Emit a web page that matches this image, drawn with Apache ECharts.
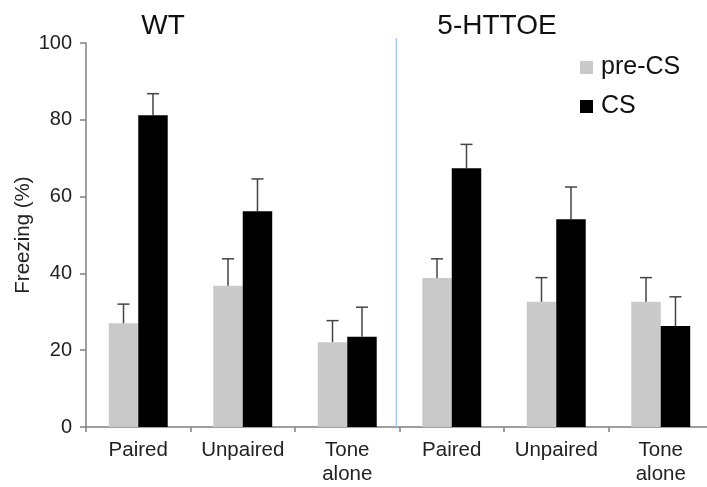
<!DOCTYPE html>
<html>
<head>
<meta charset="utf-8">
<script src="https://cdn.jsdelivr.net/npm/echarts@6/dist/echarts.min.js"></script>
<style>
html,body{margin:0;padding:0;background:#fff;}
#chart{width:707px;height:487px;}
</style>
</head>
<body>
<div id="chart"></div>
<script>
const categories = ['Paired', 'Unpaired', 'Tone\nalone', 'Paired', 'Unpaired', 'Tone\nalone'];
const groupTitles = ['WT', '5-HTTOE'];
const seriesNames = ['pre-CS', 'CS'];
const preCS = [27.0, 36.8, 22.1, 38.8, 32.6, 32.6];
const preCSErr = [5.0, 7.0, 5.6, 5.0, 6.3, 6.3];
const cs = [81.2, 56.2, 23.5, 67.4, 54.1, 26.3];
const csErr = [5.6, 8.4, 7.7, 6.2, 8.4, 7.6];
const yTicks = [0, 20, 40, 60, 80, 100];
// divider between the two genotype groups: after category index 2, fraction of band
const dividerAfter = 2;
const dividerFrac = 0.47;
const dividerTop = 101.3;

const FONT = '"Liberation Sans", Arial, sans-serif';
const BAR_FRAC = 0.282;

function errRender(sign) {
  return function (params, api) {
    const i = api.value(0), v = api.value(1), e = api.value(2);
    const base = api.coord([i, v]);
    const top = api.coord([i, v + e]);
    const band = api.size([1, 0])[0];
    const x = base[0] + sign * band * BAR_FRAC / 2;
    const cap = 6;
    const st = { stroke: '#444', lineWidth: 1.5 };
    return {
      type: 'group',
      children: [
        { type: 'line', shape: { x1: x, y1: base[1], x2: x, y2: top[1] }, style: st },
        { type: 'line', shape: { x1: x - cap, y1: top[1], x2: x + cap, y2: top[1] }, style: st }
      ]
    };
  };
}

function dividerRender(params, api) {
  const i = api.value(0), topV = api.value(1);
  const band = api.size([1, 0])[0];
  const b = api.coord([i, 0]);
  const t = api.coord([i, topV]);
  const x = b[0] + dividerFrac * band;
  return {
    type: 'line',
    shape: { x1: x, y1: b[1], x2: x, y2: t[1] },
    style: { stroke: '#a8c8ec', lineWidth: 1.5 }
  };
}

const chart = echarts.init(document.getElementById('chart'));
chart.setOption({
  animation: false,
  backgroundColor: '#fff',
  textStyle: { fontFamily: FONT },
  title: [
    { text: groupTitles[0], left: 158, top: 7, textAlign: 'center',
      textStyle: { fontFamily: FONT, fontSize: 28, fontWeight: 'normal', color: '#111' } },
    { text: groupTitles[1], left: 492, top: 7, textAlign: 'center',
      textStyle: { fontFamily: FONT, fontSize: 28, fontWeight: 'normal', color: '#111' } }
  ],
  legend: {
    data: seriesNames,
    orient: 'vertical',
    left: 575,
    top: 50,
    icon: 'rect',
    itemWidth: 13,
    itemHeight: 13,
    itemGap: 14,
    textStyle: { fontFamily: FONT, fontSize: 25, color: '#111', padding: [0, 0, 0, 3] }
  },
  grid: { left: 86, top: 43, width: 627, height: 384, containLabel: false, outerBoundsMode: 'none' },
  xAxis: {
    type: 'category',
    data: categories,
    boundaryGap: true,
    axisLine: { lineStyle: { color: '#808080', width: 1.5 } },
    axisTick: { show: true, length: 5, interval: 0, lineStyle: { color: '#808080', width: 1.5 } },
    axisLabel: { interval: 0, fontFamily: FONT, fontSize: 20.5, color: '#222', margin: 11, lineHeight: 24 }
  },
  yAxis: {
    type: 'value',
    min: yTicks[0],
    max: yTicks[yTicks.length - 1],
    interval: 20,
    name: 'Freezing (%)',
    nameLocation: 'middle',
    nameRotate: 90,
    nameGap: 52,
    nameMoveOverlap: false,
    nameTextStyle: { fontFamily: FONT, fontSize: 20.5, color: '#222' },
    axisLine: { show: true, lineStyle: { color: '#808080', width: 1.5 } },
    axisTick: { show: true, length: 6, lineStyle: { color: '#808080', width: 1.5 } },
    axisLabel: { fontFamily: FONT, fontSize: 20, color: '#222', margin: 14 },
    splitLine: { show: false }
  },
  series: [
    { name: seriesNames[0], type: 'bar', data: preCS, barWidth: (BAR_FRAC * 100) + '%', barGap: '0%',
      itemStyle: { color: '#c9c9c9' } },
    { name: seriesNames[1], type: 'bar', data: cs, barWidth: (BAR_FRAC * 100) + '%', barGap: '0%',
      itemStyle: { color: '#000' } },
    { type: 'custom', renderItem: errRender(-1), z: 3, silent: true,
      encode: { x: 0, y: 1 },
      data: preCS.map((v, i) => [i, v, preCSErr[i]]) },
    { type: 'custom', renderItem: errRender(1), z: 3, silent: true,
      encode: { x: 0, y: 1 },
      data: cs.map((v, i) => [i, v, csErr[i]]) },
    { type: 'custom', renderItem: dividerRender, z: 1, silent: true, clip: false,
      encode: { x: 0, y: 1 },
      data: [[dividerAfter, dividerTop]] }
  ]
});
</script>
</body>
</html>
